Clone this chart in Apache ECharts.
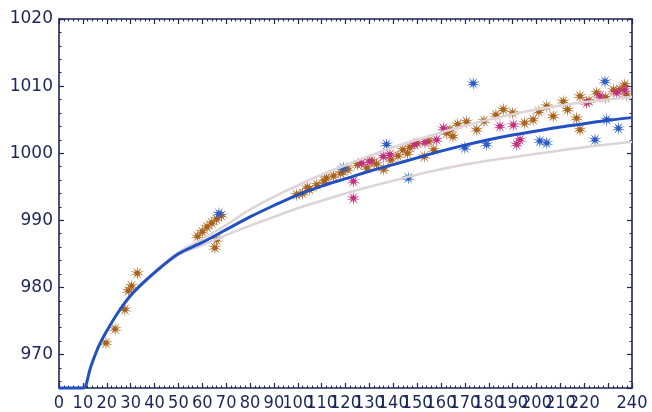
<!DOCTYPE html>
<html>
<head>
<meta charset="utf-8">
<script src="https://cdn.jsdelivr.net/npm/echarts@6/dist/echarts.min.js"></script>
<style>
html,body{margin:0;padding:0;background:#fff;}
#chart{width:652px;height:412px;}
</style>
</head>
<body>
<div id="chart"></div>
<script>
// Fitted curve (blue)
const fitX = [0, 5, 10, 11, 13, 15, 17, 20, 25, 30, 35, 40, 50, 60, 70, 80, 90, 100, 110, 120, 130, 140, 150, 160, 170, 180, 190, 200, 210, 220, 230, 240];
const fitY = [965, 965, 965, 965.1, 967.8, 969.8, 971.5, 973.5, 976.4, 978.8, 980.6, 982.2, 985.0, 986.7, 988.6, 990.5, 992.2, 993.8, 995.1, 996.2, 997.3, 998.3, 999.3, 1000.3, 1001.2, 1002.0, 1002.7, 1003.3, 1003.9, 1004.4, 1004.9, 1005.3];
// Upper and lower grey band
const bandX = [30, 40, 50, 60, 70, 80, 90, 100, 110, 120, 130, 140, 150, 160, 170, 180, 190, 200, 210, 220, 230, 240];
const upperY = [978.9, 982.3, 985.2, 987.2, 989.3, 991.6, 993.5, 995.2, 996.8, 998.2, 999.6, 1000.9, 1002.0, 1003.1, 1004.1, 1005.0, 1005.8, 1006.5, 1007.1, 1007.6, 1008.0, 1008.4];
const lowerY = [978.7, 982.1, 984.8, 986.3, 987.8, 989.2, 990.5, 991.8, 992.9, 994.0, 995.0, 995.9, 996.8, 997.6, 998.3, 998.9, 999.4, 999.9, 1000.4, 1000.9, 1001.3, 1001.7];
// Scatter groups
const brownX = [19.7, 23.5, 27.6, 29.0, 30.4, 32.8, 58, 60, 62, 64, 66, 68, 65.3, 66, 99.5, 102, 104, 105, 108, 111, 112, 115, 118, 119, 121, 125, 129, 131, 133, 136, 139, 142, 144, 146, 147, 150, 153, 155, 157, 162.4, 163.8, 165, 167, 170.7, 175, 178, 183, 186.1, 190, 195, 198.6, 201, 204.3, 207, 211.2, 213, 216.8, 218.2, 218.2, 222, 225.2, 229, 232.2, 235, 237, 237.7];
const brownY = [971.7, 973.8, 976.7, 979.5, 980.2, 982.1, 987.6, 988.3, 989.0, 989.6, 990.2, 990.7, 985.9, 987.1, 993.8, 994.0, 994.9, 994.6, 995.3, 995.8, 996.3, 996.6, 997.0, 997.4, 997.6, 998.3, 997.8, 998.8, 998.4, 997.6, 999.0, 999.6, 1000.5, 1000.0, 1000.9, 1001.5, 999.5, 1001.8, 1000.5, 1003.0, 1003.5, 1002.5, 1004.3, 1004.7, 1003.5, 1004.8, 1005.7, 1006.5, 1006.0, 1004.5, 1005.0, 1006.2, 1007.0, 1005.5, 1007.7, 1006.5, 1005.2, 1003.5, 1008.5, 1007.8, 1009.0, 1008.3, 1009.4, 1009.5, 1010.2, 1008.7];
const magentaX = [123.3, 123.3, 126.8, 130.2, 135.8, 138.6, 149, 153.3, 158.2, 161, 184.7, 190.3, 193.1, 191.7, 221, 226.6, 233.6, 237];
const magentaY = [995.8, 993.3, 998.5, 998.8, 999.5, 999.8, 1001.3, 1001.6, 1002.0, 1003.7, 1004.0, 1004.2, 1002.0, 1001.3, 1007.5, 1008.5, 1009.0, 1009.4];
const blueX = [67, 119.1, 137.2, 146.3, 170, 173.5, 179.1, 201.4, 204.3, 224.5, 228.7, 229.4, 234.3];
const blueY = [991, 997.8, 1001.3, 996.3, 1000.8, 1010.4, 1001.3, 1001.8, 1001.5, 1002.0, 1010.7, 1005.0, 1003.7];
// Axis ranges / ticks
const xMin = 0, xMax = 240, xStep = 10;
const yMin = 965, yMax = 1020;

const pairs = (xs, ys) => xs.map((x, i) => [x, ys[i]]);
const axisColor = '#1c2658';
// asterisk glyph as a filled star polygon (10 spokes)
const star = 'path://M0,-10L0.93,-2.85L5.88,-8.09L2.43,-1.76L9.51,-3.09L3,0L9.51,3.09L2.43,1.76L5.88,8.09L0.93,2.85L0,10L-0.93,2.85L-5.88,8.09L-2.43,1.76L-9.51,3.09L-3,0L-9.51,-3.09L-2.43,-1.76L-5.88,-8.09L-0.93,-2.85Z';

function xAx(pos, labels) {
  return {
    type: 'value', position: pos, min: xMin, max: xMax, interval: xStep,
    axisLine: { show: true, onZero: false, lineStyle: { color: axisColor, width: 1.6 } },
    axisTick: { show: true, inside: true, length: 5, lineStyle: { color: axisColor, width: 1.2 } },
    minorTick: { show: true, splitNumber: 5, length: 2.5, lineStyle: { color: axisColor, width: 1 } },
    splitLine: { show: false },
    axisLabel: { show: labels, hideOverlap: false, showMinLabel: true, showMaxLabel: true,
      formatter: v => String(v),
      color: axisColor, fontFamily: "'Liberation Sans Narrow', 'DejaVu Sans Condensed', sans-serif",
      fontSize: 18, margin: 6 }
  };
}
function yAx(pos, labels) {
  return {
    type: 'value', position: pos, min: yMin, max: yMax, splitNumber: 5,
    axisLine: { show: true, onZero: false, lineStyle: { color: axisColor, width: 1.6 } },
    axisTick: { show: true, inside: true, length: 5, lineStyle: { color: axisColor, width: 1.2 } },
    minorTick: { show: true, splitNumber: 5, length: 2.5, lineStyle: { color: axisColor, width: 1 } },
    splitLine: { show: false },
    axisLabel: { show: labels, showMinLabel: false, color: axisColor,
      formatter: v => String(v),
      fontFamily: "'DejaVu Sans', sans-serif", fontSize: 17, margin: 6 }
  };
}

const chart = echarts.init(document.getElementById('chart'), null, { renderer: 'canvas' });
chart.setOption({
  animation: false,
  backgroundColor: '#ffffff',
  grid: { left: 59, right: 20, top: 19, bottom: 23, containLabel: false },
  xAxis: [xAx('bottom', true), xAx('top', false)],
  yAxis: [yAx('left', true), yAx('right', false)],
  series: [
    { type: 'scatter', data: pairs(brownX, brownY), symbol: star, symbolSize: 14,
      itemStyle: { color: '#a8621a', opacity: 1 }, z: 2 },
    { type: 'scatter', data: pairs(magentaX, magentaY), symbol: star, symbolSize: 14,
      itemStyle: { color: '#c0307e', opacity: 1 }, z: 3 },
    { type: 'scatter', data: pairs(blueX, blueY), symbol: star, symbolSize: 14,
      itemStyle: { color: '#2a5cc8', opacity: 1 }, z: 3 },
    { type: 'line', data: pairs(bandX, upperY), smooth: true, showSymbol: false,
      lineStyle: { color: '#dcd4d8', width: 2.5 }, z: 4 },
    { type: 'line', data: pairs(bandX, lowerY), smooth: true, showSymbol: false,
      lineStyle: { color: '#dcd4d8', width: 2.5 }, z: 4 },
    { type: 'line', data: pairs(fitX, fitY), smooth: 0.3, showSymbol: false, clip: false,
      lineStyle: { color: '#2150c0', width: 3 }, z: 5 }
  ]
});
</script>
</body>
</html>
